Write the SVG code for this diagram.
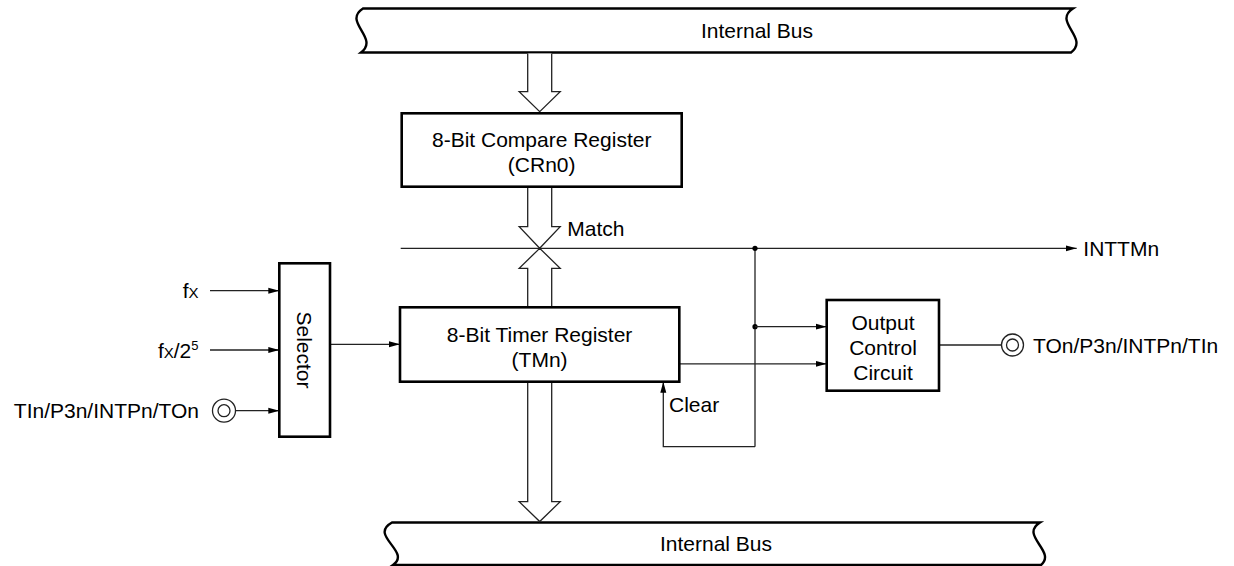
<svg xmlns="http://www.w3.org/2000/svg" width="1234" height="566" viewBox="0 0 1234 566">
<style>
text{font-family:"Liberation Sans",Arial,sans-serif;font-size:21px;fill:#000}
.c{text-anchor:middle}
.e{text-anchor:end}
.box{fill:#fff;stroke:#000;stroke-width:2.6}
.bus{fill:#fff;stroke:#000;stroke-width:2.4}
.ln{fill:none;stroke:#222;stroke-width:1.3}
.ha{fill:#fff;stroke:#222;stroke-width:1.3}
.ar{marker-end:url(#ah)}
</style>
<defs>
<marker id="ah" markerUnits="userSpaceOnUse" markerWidth="12" markerHeight="8" refX="11" refY="3.5" orient="auto">
<path d="M0,0.5 L11,3.5 L0,6.5 z" fill="#000"/>
</marker>
</defs>
<g id="bus-top">
<path class="bus" d="M363,8.5 H1073 C1052,22 1090,38 1071,52.5 H361 C380,38 342,22 363,8.5 Z"/>
<text x="757" y="38" class="c">Internal Bus</text>
</g>
<g id="bus-bottom">
<path class="bus" d="M392,522.5 H1040 C1019,535.5 1057,551.5 1041,565 H393 C412,551.5 368,535.5 392,522.5 Z"/>
<text x="716" y="551" class="c">Internal Bus</text>
</g>
<g id="connectors">
<polyline class="ha" points="527.7,53.5 527.7,91.7 519.2,91.7 539.7,111.7 560.2,91.7 551.7,91.7 551.7,53.5"/>
<polyline class="ha" points="527.7,186.7 527.7,226.7 519.2,226.7 539.7,248.3 560.2,226.7 551.7,226.7 551.7,186.7"/>
<polyline class="ha" points="527.7,307.3 527.7,268.3 519.2,268.3 539.7,248.3 560.2,268.3 551.7,268.3 551.7,307.3"/>
<polyline class="ha" points="527.7,381.7 527.7,501.7 519.2,501.7 539.7,521.5 560.2,501.7 551.7,501.7 551.7,381.7"/>
<line class="ln ar" x1="400.7" y1="248.3" x2="1076.7" y2="248.3"/>
<line class="ln" x1="755" y1="248.3" x2="755" y2="446.7"/>
<circle cx="755" cy="248.3" r="2.6" fill="#000"/>
<circle cx="755" cy="326.7" r="2.6" fill="#000"/>
<line class="ln ar" x1="755" y1="326.7" x2="826.7" y2="326.7"/>
<line class="ln ar" x1="679.3" y1="363.8" x2="826.7" y2="363.8"/>
<polyline class="ln ar" points="755,446.7 663.3,446.7 663.3,381.7"/>
<line class="ln ar" x1="210" y1="290.7" x2="279.3" y2="290.7"/>
<line class="ln ar" x1="210" y1="350" x2="279.3" y2="350"/>
<line class="ln ar" x1="236" y1="410.7" x2="279.3" y2="410.7"/>
<line class="ln ar" x1="330" y1="344.3" x2="400" y2="344.3"/>
<line class="ln" x1="939" y1="345" x2="1001.5" y2="345"/>
</g>
<g id="compare-register">
<rect class="box" x="401.7" y="113.3" width="280" height="73.4"/>
<text x="541.7" y="147" class="c">8-Bit Compare Register</text>
<text x="541.7" y="172" class="c">(CRn0)</text>
</g>
<g id="timer-register">
<rect class="box" x="400" y="307.3" width="279.3" height="74.4"/>
<text x="539.6" y="342" class="c">8-Bit Timer Register</text>
<text x="539.6" y="367" class="c">(TMn)</text>
</g>
<g id="selector">
<rect class="box" x="279.3" y="263.3" width="50.7" height="173.4"/>
<text transform="translate(304.6,350) rotate(90)" y="7.5" class="c">Selector</text>
</g>
<g id="output-control">
<rect class="box" x="826.7" y="300" width="112.3" height="90.7"/>
<text x="883" y="330" class="c">Output</text>
<text x="883" y="355" class="c">Control</text>
<text x="883" y="380" class="c">Circuit</text>
</g>
<g id="pin-in">
<circle cx="224" cy="410.7" r="11.5" fill="#fff" stroke="#222" stroke-width="1.3"/>
<circle cx="224" cy="410.7" r="6" fill="#fff" stroke="#222" stroke-width="1.3"/>
<text x="199" y="418" class="e">TIn/P3n/INTPn/TOn</text>
</g>
<g id="pin-out">
<circle cx="1012.5" cy="345" r="11" fill="#fff" stroke="#222" stroke-width="1.3"/>
<circle cx="1012.5" cy="345" r="6" fill="#fff" stroke="#222" stroke-width="1.3"/>
<text x="1033" y="352.5">TOn/P3n/INTPn/TIn</text>
</g>
<g id="labels">
<text x="198.5" y="298" class="e">f<tspan font-size="15">X</tspan></text>
<text x="198.5" y="357.5" class="e">f<tspan font-size="15">X</tspan>/2<tspan font-size="13" dy="-8">5</tspan></text>
<text x="567.3" y="236">Match</text>
<text x="1083.3" y="256">INTTMn</text>
<text x="669" y="412">Clear</text>
</g>
</svg>
